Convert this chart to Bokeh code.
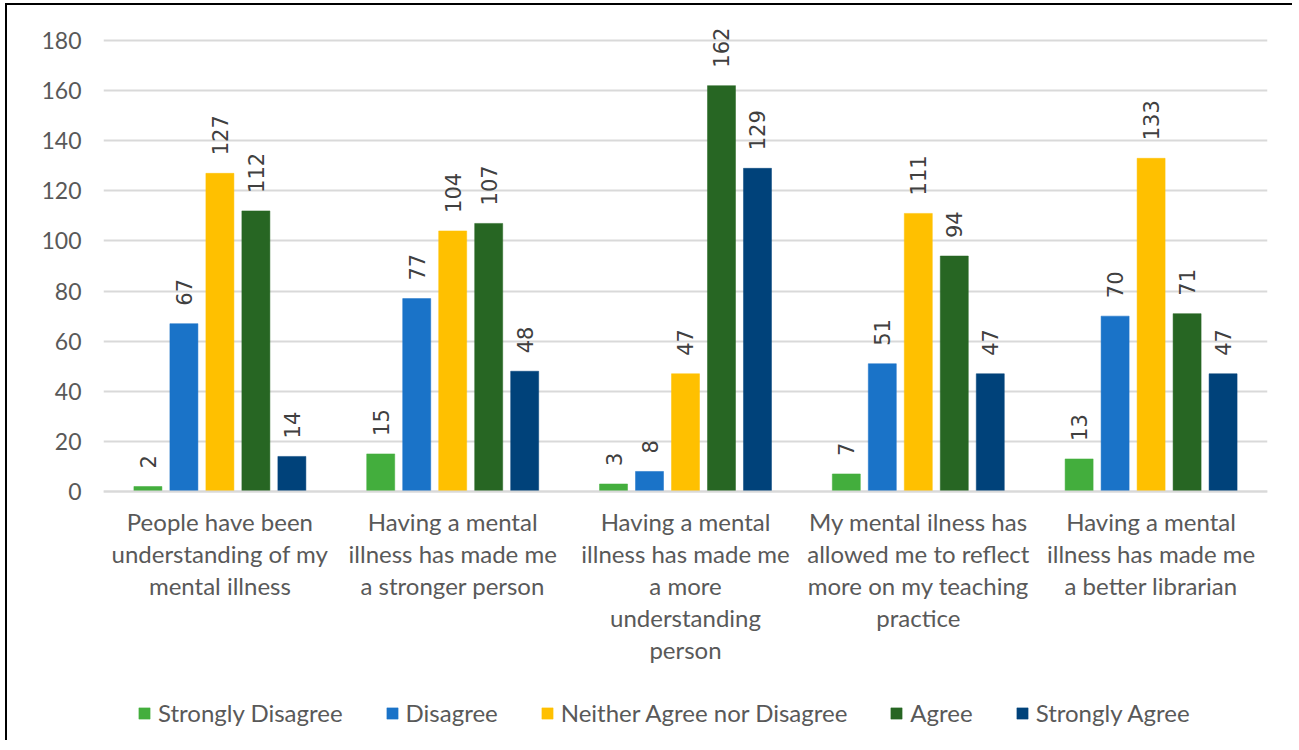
from bokeh.plotting import figure
from bokeh.models import ColumnDataSource, FactorRange, Range1d, FixedTicker, LabelSet, Legend, LegendItem
from bokeh.core.properties import value
from bokeh.transform import dodge
from bokeh.embed import file_html
from bokeh.resources import INLINE

categories = ["People have been\nunderstanding of my\nmental illness",
              "Having a mental\nillness has made me\na stronger person",
              "Having a mental\nillness has made me\na more\nunderstanding\nperson",
              "My mental ilness has\nallowed me to reflect\nmore on my teaching\npractice",
              "Having a mental\nillness has made me\na better librarian"]
series_names = ["Strongly Disagree", "Disagree", "Neither Agree nor Disagree", "Agree", "Strongly Agree"]
strongly_disagree = [2, 15, 3, 7, 13]
disagree = [67, 77, 8, 51, 70]
neither = [127, 104, 47, 111, 133]
agree = [112, 107, 162, 94, 71]
strongly_agree = [14, 48, 129, 47, 47]
y_ticks = [0, 20, 40, 60, 80, 100, 120, 140, 160, 180]

colors = ["#43AE3D", "#1A73C8", "#FFC000", "#276623", "#00427A"]
series_values = [strongly_disagree, disagree, neither, agree, strongly_agree]

frame_h = 725
px_per_unit = 476.0 / 190.0
y_start = 190 - frame_h / px_per_unit

p = figure(x_range=FactorRange(*categories), y_range=Range1d(y_start, 190),
           frame_width=1164, frame_height=frame_h, output_backend="svg", toolbar_location=None,
           min_border_left=96, min_border_right=25, min_border_top=10, min_border_bottom=0)
p.styles = {"border-top": "2px solid black", "border-left": "2px solid black",
            "margin-left": "5px", "margin-top": "3px"}
p.outline_line_color = None
p.background_fill_color = "white"
p.border_fill_color = "white"

pitch = 0.1546
bw = 0.1203
items = []
for i, (name, vals, col) in enumerate(zip(series_names, series_values, colors)):
    src = ColumnDataSource(dict(cat=categories, val=vals, lab=[str(v) for v in vals]))
    off = (i - 2) * pitch
    r = p.vbar(x=dodge("cat", off, range=p.x_range), top="val", bottom=0, width=bw, source=src,
               fill_color=col, line_color=col, line_width=0.5)
    items.append(LegendItem(label=name, renderers=[r]))
    lbl = LabelSet(x=dodge("cat", off, range=p.x_range), y="val", text="lab", source=src,
                   angle=1.5708, text_align="left", text_baseline="middle",
                   y_offset=18, text_font=value("DejaVu Sans"), text_font_size="21px",
                   text_color="#404040")
    p.add_layout(lbl)

p.yaxis.ticker = FixedTicker(ticks=y_ticks)
p.ygrid.ticker = FixedTicker(ticks=y_ticks)
p.ygrid.grid_line_color = "#D9D9D9"
p.ygrid.grid_line_width = 2
p.xgrid.grid_line_color = None
p.yaxis.axis_line_color = None
p.yaxis.major_tick_line_color = None
p.yaxis.minor_tick_line_color = None
p.yaxis.major_label_text_font = "Lato"
p.yaxis.major_label_text_font_size = "23px"
p.yaxis.major_label_text_color = "#595959"
p.yaxis.major_label_standoff = 16

p.xaxis.fixed_location = 0
p.xaxis.axis_line_color = "#D9D9D9"
p.xaxis.axis_line_width = 2
p.xaxis.major_tick_line_color = None
p.xaxis.minor_tick_line_color = None
p.xaxis.major_label_text_font = "Lato"
p.xaxis.major_label_text_font_size = "24px"
p.xaxis.major_label_text_color = "#595959"
p.xaxis.major_label_text_line_height = 1.11
p.xaxis.major_label_standoff = 9
p.xaxis.major_label_orientation = "horizontal"

legend = Legend(items=items, orientation="horizontal", location=(34, 13),
                glyph_width=14, glyph_height=14, label_standoff=7, spacing=42,
                label_text_font="Lato", label_text_font_size="24px", label_text_color="#595959",
                border_line_color=None, background_fill_alpha=0, margin=0, padding=0)
p.add_layout(legend)

open("out.html", "w").write(file_html(p, INLINE))
